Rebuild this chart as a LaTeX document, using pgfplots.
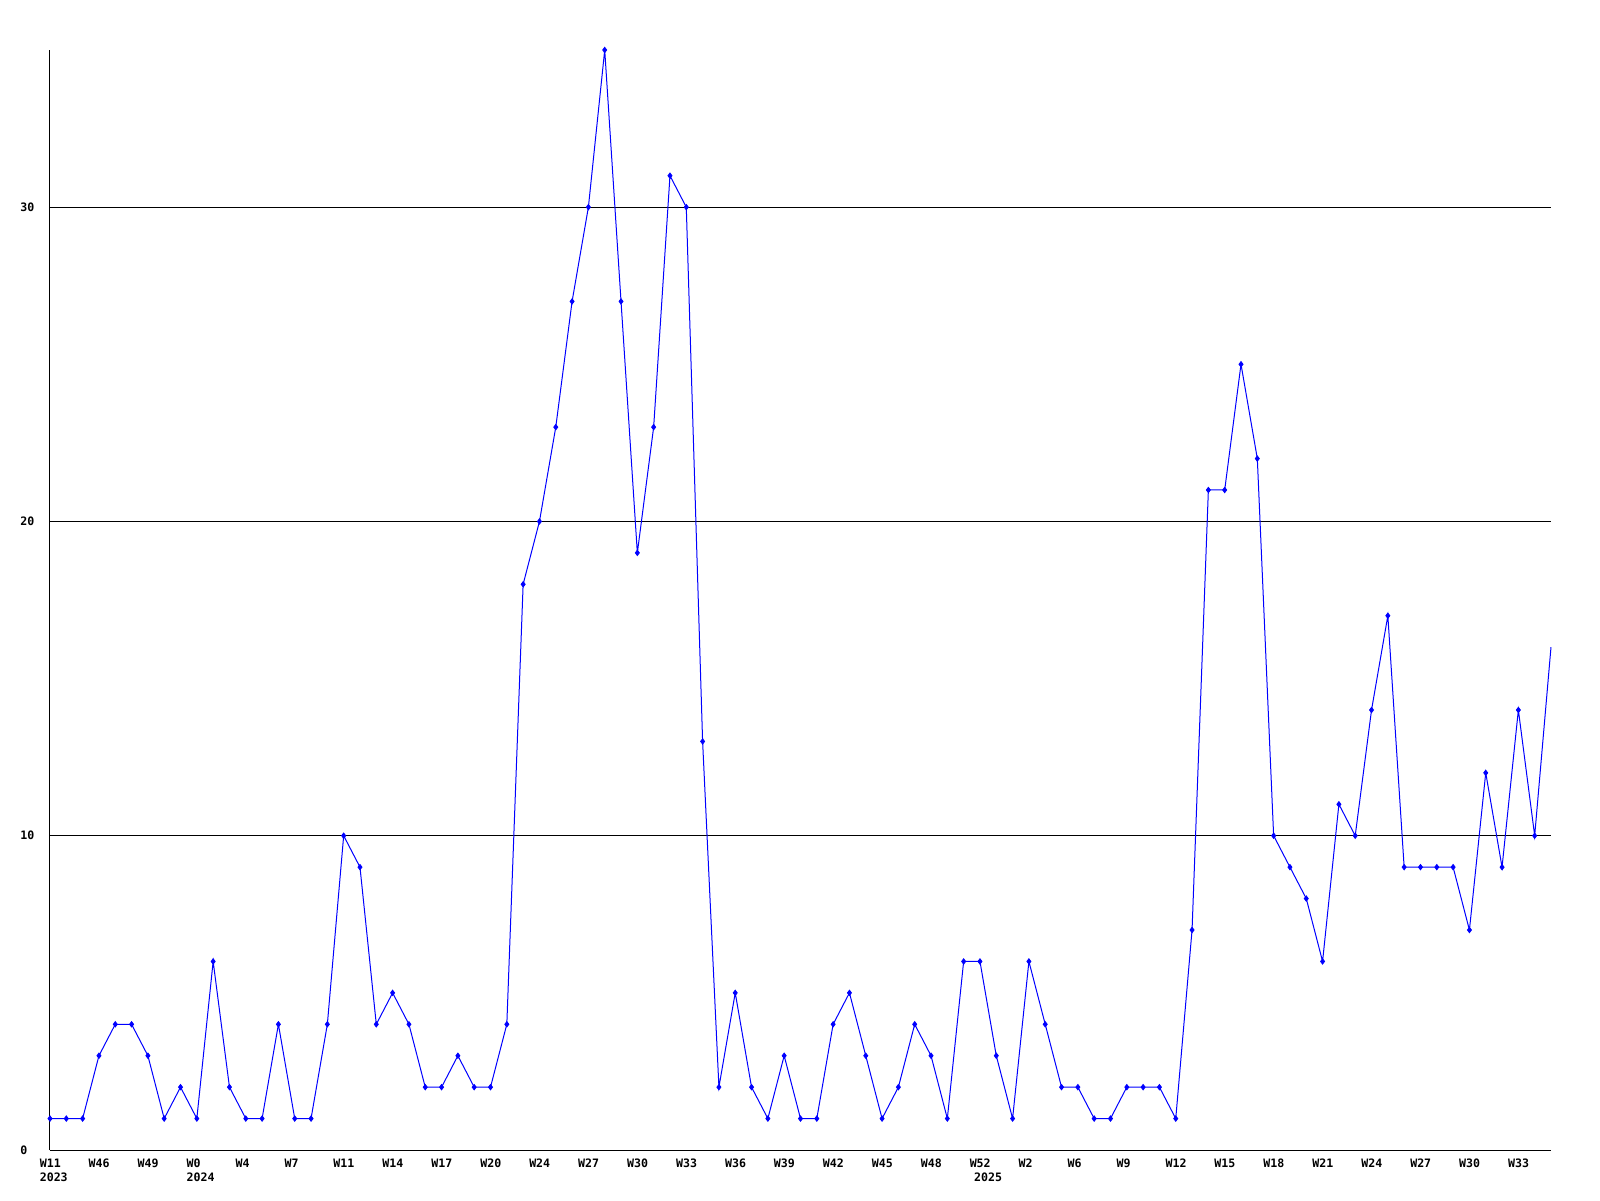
\documentclass[border=0pt]{standalone}
\usepackage{fontspec}
\setmainfont{DejaVu Sans Mono}
\usepackage{pgfplots}
\usepackage{pgfplotstable}
\pgfplotsset{compat=1.18}
\definecolor{lineblue}{RGB}{0,0,255}
\pgfplotstableread{
x y
0 1
1 1
2 1
3 3
4 4
5 4
6 3
7 1
8 2
9 1
10 6
11 2
12 1
13 1
14 4
15 1
16 1
17 4
18 10
19 9
20 4
21 5
22 4
23 2
24 2
25 3
26 2
27 2
28 4
29 18
30 20
31 23
32 27
33 30
34 35
35 27
36 19
37 23
38 31
39 30
40 13
41 2
42 5
43 2
44 1
45 3
46 1
47 1
48 4
49 5
50 3
51 1
52 2
53 4
54 3
55 1
56 6
57 6
58 3
59 1
60 6
61 4
62 2
63 2
64 1
65 1
66 2
67 2
68 2
69 1
70 7
71 21
72 21
73 25
74 22
75 10
76 9
77 8
78 6
79 11
80 10
81 14
82 17
83 9
84 9
85 9
86 9
87 7
88 12
89 9
90 14
91 10
92 16
}\datatable
\begin{document}
\begin{tikzpicture}
\path[use as bounding box] (-25pt,-25pt) rectangle (775pt,575pt);
\begin{axis}[
  at={(0,0)}, anchor=south west,
  scale only axis,
  width=750.5pt, height=550pt,
  xmin=0, xmax=92, ymin=0, ymax=35,
  axis x line*=bottom, axis y line*=left,
  axis line style={black, line width=0.5pt, -},
  xtick={0,3,...,90},
  xticklabels={W11,W46,W49,W0,W4,W7,W11,W14,W17,W20,W24,W27,W30,W33,W36,W39,W42,W45,W48,W52,W2,W6,W9,W12,W15,W18,W21,W24,W27,W30,W33},
  extra x ticks={0,9,57.27},
  extra x tick labels={2023,2024,2025},
  extra x tick style={xticklabel style={yshift=-7.3pt}},
  ytick={0,10,20,30},
  yticklabels={0,10,20,30},
  major tick length=0pt,
  ymajorgrids,
  major grid style={black, line width=0.5pt},
  tick label style={font=\fontsize{5.8}{7.15}\selectfont\bfseries},
  xticklabel style={anchor=north west, inner sep=0pt, xshift=-5.3pt, yshift=-4.1pt},
  yticklabel style={anchor=west, inner sep=0pt, xshift=-15pt},
  clip=false,
]
\addplot[color=lineblue, line width=0.5pt, mark=none] table[x=x, y=y] {\datatable};
\addplot[only marks, restrict x to domain=0:91, mark=diamond*, mark size=1.35pt, mark options={fill=lineblue, draw=lineblue}] table[x=x, y=y] {\datatable};
\end{axis}
\end{tikzpicture}
\end{document}
